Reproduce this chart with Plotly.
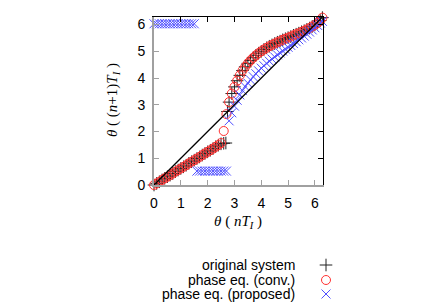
import plotly.graph_objects as go

# ---- data ----
theta = [0.0, 0.1, 0.2, 0.3, 0.4, 0.5, 0.6, 0.7, 0.8, 0.9, 1.0, 1.1, 1.2, 1.3, 1.4, 1.5,
         1.6, 1.7, 1.8, 1.9, 2.0, 2.1, 2.2, 2.3, 2.4, 2.5, 2.6, 2.7, 2.8, 2.9, 3.0, 3.1,
         3.2, 3.3, 3.4, 3.5, 3.6, 3.7, 3.8, 3.9, 4.0, 4.1, 4.2, 4.3, 4.4, 4.5, 4.6, 4.7,
         4.8, 4.9, 5.0, 5.1, 5.2, 5.3, 5.4, 5.5, 5.6, 5.7, 5.8, 5.9, 6.0, 6.1, 6.2, 6.28]

conv_y = [0.00, 0.06, 0.12, 0.19, 0.25, 0.31, 0.37, 0.43, 0.50, 0.56, 0.62, 0.68, 0.74, 0.81,
          0.87, 0.93, 0.99, 1.05, 1.12, 1.18, 1.24, 1.30, 1.36, 1.43, 1.49, 1.57,
          2.02, 2.65, 3.10, 3.42, 3.67, 3.90, 4.10, 4.28, 4.42, 4.55,
          4.66, 4.76, 4.85, 4.93, 5.00, 5.07, 5.13, 5.19, 5.24, 5.29,
          5.34, 5.38, 5.43, 5.47, 5.51, 5.55, 5.60, 5.64, 5.68, 5.73,
          5.77, 5.82, 5.87, 5.93, 5.99, 6.06, 6.15, 6.26]

orig_theta = [0.0, 0.1, 0.2, 0.3, 0.4, 0.5, 0.6, 0.7, 0.8, 0.9, 1.0, 1.1, 1.2, 1.3, 1.4, 1.5,
              1.6, 1.7, 1.8, 1.9, 2.0, 2.1, 2.2, 2.3, 2.4, 2.5, 2.6, 2.68, 2.74, 2.8, 2.9, 3.0,
              3.1, 3.2, 3.3, 3.4, 3.5, 3.6, 3.7, 3.8, 3.9, 4.0, 4.1, 4.2, 4.3, 4.4, 4.5, 4.6,
              4.7, 4.8, 4.9, 5.0, 5.1, 5.2, 5.3, 5.4, 5.5, 5.6, 5.7, 5.8, 5.9, 6.0, 6.1, 6.2, 6.28]
orig_y = [0.00, 0.06, 0.12, 0.19, 0.25, 0.31, 0.37, 0.43, 0.50, 0.56, 0.62, 0.68, 0.74, 0.81,
          0.87, 0.93, 0.99, 1.05, 1.12, 1.18, 1.24, 1.30, 1.36, 1.43, 1.49, 1.54,
          1.56, 1.57, 2.75, 3.10, 3.42, 3.67, 3.90, 4.10, 4.28, 4.42, 4.55,
          4.66, 4.76, 4.85, 4.93, 5.00, 5.07, 5.13, 5.19, 5.24, 5.29,
          5.34, 5.38, 5.43, 5.47, 5.51, 5.55, 5.60, 5.64, 5.68, 5.73,
          5.77, 5.82, 5.87, 5.93, 5.99, 6.06, 6.15, 6.26]

prop_y = [6.03] * 16 + [0.52] * 12 + [
    2.40, 2.70, 2.95, 3.17, 3.37, 3.53, 3.68, 3.81, 3.93, 4.05,
    4.16, 4.27, 4.37, 4.46, 4.55, 4.63, 4.71, 4.79, 4.87, 4.94,
    5.01, 5.08, 5.15, 5.22, 5.29, 5.36, 5.43, 5.50, 5.57, 5.64,
    5.72, 5.80, 5.88, 5.97, 6.06, 6.12]

diag = [0.0, 6.2832]
ticks = [0, 1, 2, 3, 4, 5, 6]
series_names = ["original system", "phase eq. (conv.)", "phase eq. (proposed)"]

# ---- styles / layout geometry (pixels) ----
GRAY = "#a0a0a0"
RED = "#ff3030"
BLUE = "#4f4fff"
BLACK = "#202020"
SANS = "Liberation Sans, Arial, sans-serif"
SERIF = "Liberation Serif, Times New Roman, serif"
TICKFONT = dict(family=SANS, size=14, color="black")

W, H = 436, 305
PX0, PX1 = 154, 322.5     # plot area left/right
PY0, PY1 = 17, 185        # plot area top/bottom
XR = [0, 6.2832]
YR = [0, 6.2832]

STY = [
    dict(symbol="cross-thin-open", size=9, color=BLACK, line=dict(color=BLACK, width=1)),
    dict(symbol="circle-open", size=9, color=RED, line=dict(color=RED, width=1)),
    dict(symbol="x-thin-open", size=9, color=BLUE, line=dict(color=BLUE, width=1)),
]

fig = go.Figure()

fig.add_trace(go.Scatter(x=orig_theta, y=orig_y, mode="markers", cliponaxis=False,
                         marker=STY[0], showlegend=False))
fig.add_trace(go.Scatter(x=theta, y=conv_y, mode="markers", cliponaxis=False,
                         marker=STY[1], showlegend=False))
fig.add_trace(go.Scatter(x=theta, y=prop_y, mode="markers", cliponaxis=False,
                         marker=STY[2], showlegend=False))
fig.add_trace(go.Scatter(x=diag, y=diag, mode="lines", xaxis="x2", yaxis="y2",
                         line=dict(color="black", width=1.3), showlegend=False))

# legend (gnuplot style: right-aligned text, symbol on the right), on a pixel-scaled
# helper axis pair that covers the whole figure
LEG_SYM_X = 326
LEG_TXT_X = 297
LEG_ROWS = [265, 280, 294]
for name, py, st in zip(series_names, LEG_ROWS, STY):
    fig.add_trace(go.Scatter(x=[LEG_SYM_X], y=[py], mode="markers", xaxis="x3",
                             yaxis="y3", marker=st, showlegend=False, hoverinfo="skip"))
    fig.add_annotation(text=name, xref="paper", yref="paper",
                       x=LEG_TXT_X / W, y=1 - py / H,
                       xanchor="right", yanchor="middle", showarrow=False,
                       font=dict(family=SANS, size=14, color="black"))

# axis titles
fig.add_annotation(text="<i>θ</i> ( <i>nT</i><sub><i>I</i></sub> )", xref="paper", yref="paper",
                   x=238 / W, y=1 - 222 / H, xanchor="center", yanchor="middle",
                   showarrow=False, font=dict(family=SERIF, size=15, color="black"))
fig.add_annotation(text="<i>θ</i> ( (<i>n</i>+1)<i>T</i><sub><i>I</i></sub> )", xref="paper",
                   yref="paper", x=113 / W, y=1 - 100 / H,
                   xanchor="center", yanchor="middle", textangle=-90, showarrow=False,
                   font=dict(family=SERIF, size=15, color="black"))

xdom = [PX0 / W, PX1 / W]
ydom = [1 - PY1 / H, 1 - PY0 / H]

fig.update_layout(
    width=W, height=H,
    margin=dict(l=0, r=0, t=0, b=0, pad=0, autoexpand=False),
    paper_bgcolor="white", plot_bgcolor="rgba(0,0,0,0)",
    showlegend=False,
    xaxis=dict(domain=xdom, range=XR, tickvals=ticks, showgrid=False, zeroline=False,
               showline=True, linecolor=GRAY, linewidth=2, ticks="inside",
               ticklen=5, tickcolor=GRAY, tickwidth=1, tickfont=TICKFONT,
               ticklabelstandoff=4, automargin=False),
    yaxis=dict(domain=ydom, range=YR, tickvals=ticks, showgrid=False, zeroline=False,
               showline=True, linecolor=GRAY, linewidth=2, ticks="inside",
               ticklen=5, tickcolor=GRAY, tickwidth=1, tickfont=TICKFONT,
               ticklabelstandoff=4, automargin=False),
    xaxis2=dict(range=XR, overlaying="x", side="top", tickvals=ticks, showgrid=False,
                zeroline=False, showline=True, linecolor="black", linewidth=1,
                ticks="inside", ticklen=5, tickcolor="black", showticklabels=False,
                automargin=False),
    yaxis2=dict(range=YR, overlaying="y", side="right", tickvals=ticks, showgrid=False,
                zeroline=False, showline=True, linecolor="black", linewidth=1,
                ticks="inside", ticklen=5, tickcolor="black", showticklabels=False,
                automargin=False),
    xaxis3=dict(domain=[0, 1], range=[0, W], anchor="y3", visible=False,
                fixedrange=True, automargin=False),
    yaxis3=dict(domain=[0, 1], range=[H, 0], anchor="x3", visible=False,
                fixedrange=True, automargin=False),
)

fig.write_html("out.html", config={"displayModeBar": False},
               post_script="document.body.style.margin='0px';")
